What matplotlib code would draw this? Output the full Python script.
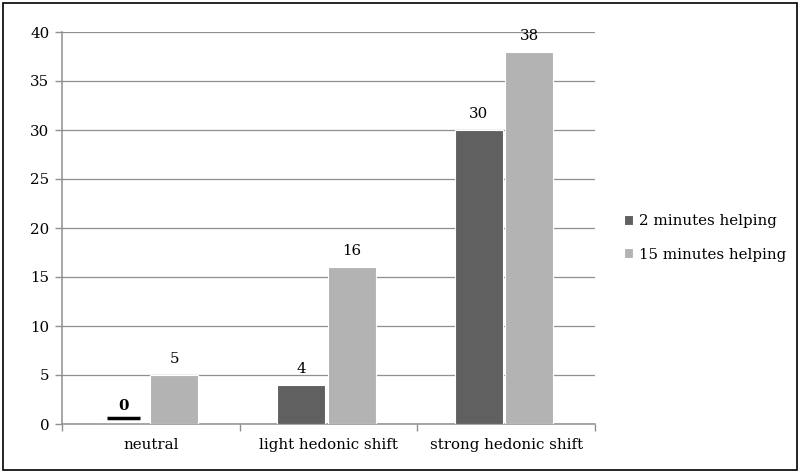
import numpy as np
import matplotlib.pyplot as plt
from matplotlib.patches import Rectangle

categories = ["neutral", "light hedonic shift", "strong hedonic shift"]
two_min = [0, 4, 30]
fifteen_min = [5, 16, 38]
series_names = ["2 minutes helping", "15 minutes helping"]

DARK = "#5f605f"
LIGHT = "#b3b3b3"
GRID = "#8f8f8f"

plt.rcParams['font.family'] = ['DejaVu Serif']
FS = 10.8

fig = plt.figure(figsize=(8.01, 4.76), dpi=100)
ax = fig.add_axes([62 / 801, 52 / 476, (595 - 62) / 801, (424 - 32) / 476])

x = np.arange(len(categories))
w = 0.27
gap = 0.008
shift = -0.012

ax.bar(x - w / 2 - gap + shift, two_min, w, color=DARK, edgecolor="white", linewidth=0.8,
       label=series_names[0], zorder=3)
ax.bar(x + w / 2 + gap + shift, fifteen_min, w, color=LIGHT, edgecolor="white", linewidth=0.8,
       label=series_names[1], zorder=3)

for xi, v in zip(x, two_min):
    cx = xi - w / 2 - gap + shift
    if v == 0:
        ax.plot([cx - w * 0.34, cx + w * 0.34], [0.6, 0.6],
                color="black", linewidth=2.5, zorder=4, solid_capstyle="butt")
        ax.text(cx, 1.1, "0", ha="center", va="bottom", fontsize=FS, fontweight="bold")
    else:
        ax.text(cx, v + 0.9, str(v), ha="center", va="bottom", fontsize=FS)
for xi, v in zip(x, fifteen_min):
    ax.text(xi + w / 2 + gap + shift, v + 0.9, str(v), ha="center", va="bottom", fontsize=FS)

ax.set_xlim(-0.5, 2.5)
ax.set_ylim(0, 40)
ax.set_yticks(np.arange(0, 41, 5))
ax.yaxis.grid(True, color=GRID, linewidth=0.9, zorder=0)
ax.set_axisbelow(True)

ax.set_xticks(x)
ax.set_xticklabels(categories, fontsize=FS)
ax.set_xticks([-0.5, 0.5, 1.5, 2.5], minor=True)
ax.tick_params(axis="x", which="major", length=0, pad=10)
ax.tick_params(axis="x", which="minor", length=5, color=GRID, width=1.0)
ax.tick_params(axis="y", length=5, color=GRID, width=1.0, labelsize=FS, pad=4)

for side in ["top", "right"]:
    ax.spines[side].set_visible(False)
for side in ["left", "bottom"]:
    ax.spines[side].set_color(GRID)
    ax.spines[side].set_linewidth(1.1)

ax.legend(loc="center left", bbox_to_anchor=(1.03, 0.475), frameon=False, fontsize=FS,
          handlelength=0.6, handleheight=0.6, handletextpad=0.4, labelspacing=1.3)

fig.patches.append(Rectangle((3 / 801, 6 / 476), 794 / 801, 467 / 476, transform=fig.transFigure,
                             fill=False, edgecolor="black", linewidth=1.2))

fig.savefig("out.png", dpi=100)
